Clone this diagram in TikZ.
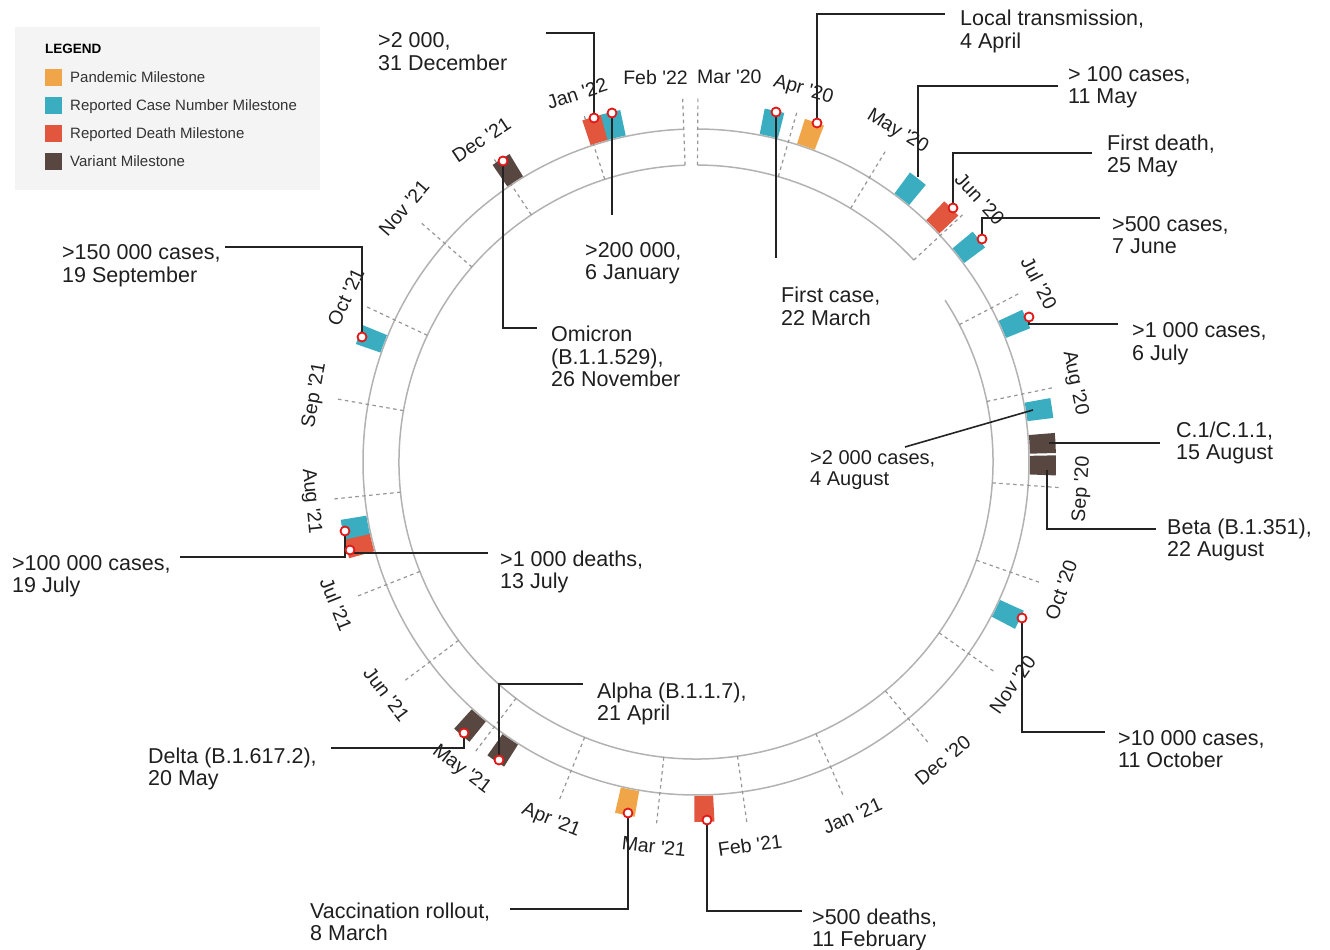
\documentclass[tikz,border=0pt]{standalone}
\usepackage{fontspec}
\setmainfont{Liberation Sans}
\definecolor{pand}{RGB}{240,166,72}
\definecolor{casec}{RGB}{58,174,192}
\definecolor{death}{RGB}{226,86,62}
\definecolor{vari}{RGB}{88,71,64}
\definecolor{ringc}{RGB}{178,178,178}
\definecolor{tickc}{RGB}{150,150,150}
\definecolor{connc}{RGB}{35,35,35}
\definecolor{legbg}{RGB}{244,244,244}
\definecolor{dotred}{RGB}{225,25,25}
\newcommand\aposq{\textquotesingle}
\newcommand\twol[1]{\begin{tabular}[t]{@{}l@{}}#1\end{tabular}}
\newcommand\msq[2]{\fill[#2] (#1:334) arc[start angle=#1, end angle={#1-3.2}, radius=334] -- ({#1-3.2}:360) arc[start angle={#1-3.2}, end angle=#1, radius=360] -- cycle;}
\pgfdeclarelayer{fg}
\pgfsetlayers{main,fg}
\begin{document}
\begin{tikzpicture}[x=1pt,y=1pt,
  ringline/.style={draw=ringc, line width=1.5pt},
  monthtick/.style={draw=tickc, line width=1.2pt, dash pattern=on 3.5pt off 3.5pt},
  monthlbl/.style={font=\fontsize{19.5}{20}\selectfont, inner sep=0pt, text=black!88},
  reddot/.style={circle, draw=dotred, fill=white, line width=1.8pt, minimum size=9pt, inner sep=0pt},
  conn/.style={draw=connc, line width=1.6pt},
  lbl/.style={font=\fontsize{21.5}{22}\selectfont, anchor=base west, inner sep=0pt, text=black!88},
  lblsm/.style={font=\fontsize{20}{20.5}\selectfont, anchor=base west, inner sep=0pt, text=black!88},
  legsq/.style={minimum size=17pt, inner sep=0pt},
  legtxt/.style={font=\fontsize{15}{16}\selectfont, anchor=base west, inner sep=0pt, text=black!80}]
\useasboundingbox (-696,-488) rectangle (634,462);

% rings
\draw[ringline] (89.7:333) arc[start angle=89.7, end angle=-267.9, radius=333];
\draw[ringline] (89.7:297) arc[start angle=89.7, end angle=42.84, radius=297];
\draw[ringline] (33.0:297) arc[start angle=33.0, end angle=-267.9, radius=297];

% month ticks
\foreach \a in {89.7,73.91,58.63,42.84,27.55,11.76,-4.03,-19.31,-35.10,-50.39,-66.18,-81.97,-96.23,-112.02,-127.30,-143.10,-158.38,-174.17,-189.96,-205.24,-221.03,-236.32,-252.11,-267.90}
  \draw[monthtick] (\a:297) -- (\a:365);

% month labels
\foreach \a/\r/\t [count=\i] in {
85.05/0/Mar \aposq20, 73.91/-16.09/Apr \aposq20, 58.63/-31.37/May \aposq20,
42.84/-47.16/Jun \aposq20, 27.55/-62.45/Jul \aposq20, 11.76/-78.24/Aug \aposq20,
-4.03/85.97/Sep \aposq20, -19.31/70.69/Oct \aposq20, -35.10/54.90/Nov \aposq20,
-50.39/39.61/Dec \aposq20, -66.18/23.82/Jan \aposq21, -81.97/8.03/Feb \aposq21,
-96.23/-6.23/Mar \aposq21, -112.02/-22.02/Apr \aposq21, -127.30/-37.30/May \aposq21,
-143.10/-53.10/Jun \aposq21, -158.38/-68.38/Jul \aposq21, -174.17/-84.17/Aug \aposq21,
170.04/80.04/Sep \aposq21, 154.76/64.76/Oct \aposq21, 138.97/48.97/Nov \aposq21,
123.68/33.68/Dec \aposq21, 107.89/17.89/Jan \aposq22, 96.0/0/Feb \aposq22}
  \node[monthlbl, rotate=\r] (m\i) at (\a:387) {\t};

% milestone squares
\msq{79.00}{casec}
\msq{72.38}{pand}
\msq{53.53}{casec}
\msq{46.40}{death}
\msq{39.78}{casec}
\msq{25.01}{casec}
\msq{10.23}{casec}
\msq{4.63}{vari}
\msq{1.06}{vari}
\msq{-24.41}{casec}
\msq{-87.06}{death}
\msq{-99.80}{pand}
\msq{-122.21}{vari}
\msq{-129.0}{vari}
\msq{-164.49}{death}
\msq{-167.55}{casec}
\msq{-199.13}{casec}
\msq{-235.6}{vari}
\msq{-251.60}{death}
\msq{-254.65}{casec}

% red markers
\begin{pgfonlayer}{fg}
\node[reddot] (dLT) at (121,339) {};
\node[reddot] (dFC) at (80,350) {};
\node[reddot] (dFD) at (257,254) {};
\node[reddot] (d500) at (286,223) {};
\node[reddot] (d1k) at (333,145) {};
\node[reddot] (d10k) at (326,-156) {};
\node[reddot] (d500d) at (11,-358) {};
\node[reddot] (dVR) at (-68,-351) {};
\node[reddot] (dAl) at (-197,-298) {};
\node[reddot] (dDe) at (-232,-271) {};
\node[reddot] (d1kd) at (-346,-88) {};
\node[reddot] (d100k) at (-351,-69) {};
\node[reddot] (d150k) at (-334,125) {};
\node[reddot] (dOm) at (-193,301) {};
\node[reddot] (d2kd) at (-102,344) {};
\node[reddot] (d200k) at (-84,349) {};
\end{pgfonlayer}

% connector start / end points
\coordinate (s100) at (222,285);
\coordinate (s2k) at (337,52);
\coordinate (sC1) at (353,19);
\coordinate (sBeta) at (351,-8);
\coordinate (eLT) at (249,448);
\coordinate (eFC) at (80,204);
\coordinate (e100) at (362,376);
\coordinate (eFD) at (396,309);
\coordinate (e500) at (404,244);
\coordinate (e1k) at (422,138);
\coordinate (e2k) at (209,15);
\coordinate (eC1) at (464,19);
\coordinate (eBeta) at (460,-67);
\coordinate (e10k) at (409,-270);
\coordinate (e500d) at (106,-449);
\coordinate (eVR) at (-186,-447);
\coordinate (eAl) at (-113,-222);
\coordinate (eDe) at (-365,-286);
\coordinate (e1kd) at (-208,-91);
\coordinate (e100k) at (-516,-95);
\coordinate (e150k) at (-471,215);
\coordinate (eOm) at (-159,134);
\coordinate (e2kd) at (-150,429);
\coordinate (e200k) at (-84,247);

% connectors
\draw[conn] (dLT) |- (eLT);
\draw[conn] (dFC) -- (eFC);
\draw[conn] (s100) |- (e100);
\draw[conn] (dFD) |- (eFD);
\draw[conn] (d500) |- (e500);
\draw[conn] (d1k) |- (e1k);
\draw[conn] (s2k) -- (e2k);
\draw[conn] (sC1) -- (eC1);
\draw[conn] (sBeta) |- (eBeta);
\draw[conn] (d10k) |- (e10k);
\draw[conn] (d500d) |- (e500d);
\draw[conn] (dVR) |- (eVR);
\draw[conn] (dAl) |- (eAl);
\draw[conn] (dDe) |- (eDe);
\draw[conn] (d1kd) |- (e1kd);
\draw[conn] (d100k) |- (e100k);
\draw[conn] (d150k) |- (e150k);
\draw[conn] (dOm) |- (eOm);
\draw[conn] (d2kd) |- (e2kd);
\draw[conn] (d200k) -- (e200k);

% labels
\node[lbl] (tLT) at (264,436) {\twol{Local transmission,\\4 April}};
\node[lbl] (tFC) at (85,159) {\twol{First case,\\22 March}};
\node[lbl] (t100) at (372,380) {\twol{> 100 cases,\\11 May}};
\node[lbl] (tFD) at (411,311) {\twol{First death,\\25 May}};
\node[lbl] (t500) at (416,230) {\twol{>500 cases,\\7 June}};
\node[lbl] (t1k) at (436,124) {\twol{>1 000 cases,\\6 July}};
\node[lblsm] (t2k) at (114,-3) {\twol{>2 000 cases,\\4 August}};
\node[lbl] (tC1) at (480,24) {\twol{C.1/C.1.1,\\15 August}};
\node[lbl] (tBeta) at (471,-72) {\twol{Beta (B.1.351),\\22 August}};
\node[lbl] (t10k) at (422,-283) {\twol{>10 000 cases,\\11 October}};
\node[lbl] (t500d) at (116,-462) {\twol{>500 deaths,\\11 February}};
\node[lbl] (tVR) at (-386,-456) {\twol{Vaccination rollout,\\8 March}};
\node[lbl] (tAl) at (-99,-236) {\twol{Alpha (B.1.1.7),\\21 April}};
\node[lbl] (tDe) at (-548,-301) {\twol{Delta (B.1.617.2),\\20 May}};
\node[lbl] (t1kd) at (-196,-104) {\twol{>1 000 deaths,\\13 July}};
\node[lbl] (t100k) at (-684,-108) {\twol{>100 000 cases,\\19 July}};
\node[lbl] (t150k) at (-634,202) {\twol{>150 000 cases,\\19 September}};
\node[lbl] (tOm) at (-145,120) {\twol{Omicron\\(B.1.1.529),\\26 November}};
\node[lbl] (t2kd) at (-318,414) {\twol{>2 000,\\31 December}};
\node[lbl] (t200k) at (-111,204) {\twol{>200 000,\\6 January}};

% legend
\fill[legbg] (-681,435) rectangle (-376,272);
\node[font=\bfseries\fontsize{13.5}{14}\selectfont, anchor=base west, inner sep=0pt] (legT) at (-651,408) {LEGEND};
\node[legsq, fill=pand] (lq1) at (-642.5,384.5) {};
\node[legsq, fill=casec] (lq2) at (-642.5,356.5) {};
\node[legsq, fill=death] (lq3) at (-642.5,328.5) {};
\node[legsq, fill=vari] (lq4) at (-642.5,300.5) {};
\node[legtxt] (lt1) at (-626,379.6) {Pandemic Milestone};
\node[legtxt] (lt2) at (-626,351.6) {Reported Case Number Milestone};
\node[legtxt] (lt3) at (-626,323.6) {Reported Death Milestone};
\node[legtxt] (lt4) at (-626,295.6) {Variant Milestone};
\end{tikzpicture}
\end{document}
